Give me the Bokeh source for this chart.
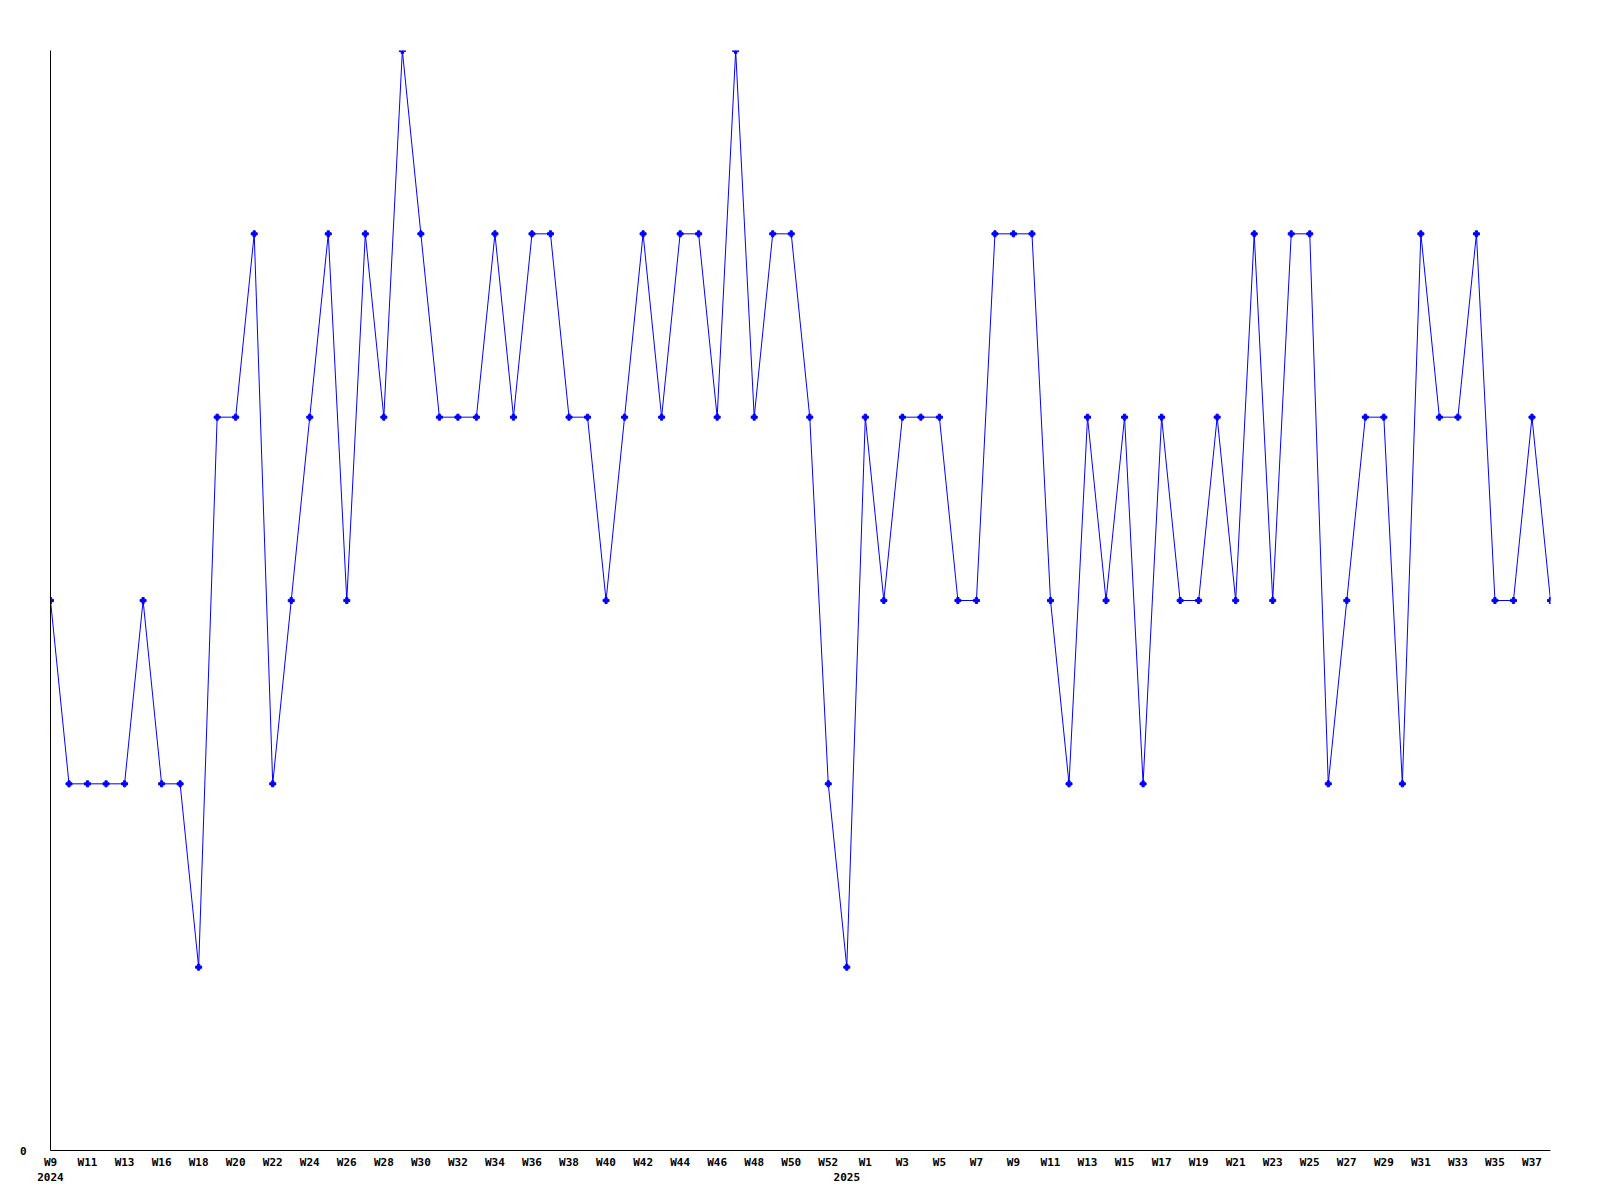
from bokeh.plotting import figure
from bokeh.models import Range1d, FixedTicker, LinearAxis
from bokeh.embed import file_html
from bokeh.resources import INLINE

# Weekly values, 2024 W9 .. 2025 W38 (82 weeks)
values = [
    3, 2, 2, 2, 2, 3, 2, 2, 1, 4,
    4, 5, 2, 3, 4, 5, 3, 5, 4, 6,
    5, 4, 4, 4, 5, 4, 5, 5, 4, 4,
    3, 4, 5, 4, 5, 5, 4, 6, 4, 5,
    5, 4, 2, 1, 4, 3, 4, 4, 4, 3,
    3, 5, 5, 5, 3, 2, 4, 3, 4, 2,
    4, 3, 3, 4, 3, 5, 3, 5, 5, 2,
    3, 4, 4, 2, 5, 4, 4, 5, 3, 3,
    4, 3,
]
idx = list(range(len(values)))

week_tick_pos = [0, 2, 4, 6, 8, 10, 12, 14, 16, 18, 20, 22, 24, 26, 28, 30, 32, 34, 36, 38, 40, 42,
                 44, 46, 48, 50, 52, 54, 56, 58, 60, 62, 64, 66, 68, 70, 72, 74, 76, 78, 80]
week_tick_labels = ["W9", "W11", "W13", "W16", "W18", "W20", "W22", "W24", "W26", "W28", "W30",
                    "W32", "W34", "W36", "W38", "W40", "W42", "W44", "W46", "W48", "W50", "W52",
                    "W1", "W3", "W5", "W7", "W9", "W11", "W13", "W15", "W17", "W19", "W21", "W23",
                    "W25", "W27", "W29", "W31", "W33", "W35", "W37"]
year_tick_pos = [0, 43]
year_tick_labels = ["2024", "2025"]

FONT = "DejaVu Sans Mono"

p = figure(width=1592, height=1192, output_backend="svg", toolbar_location=None,
           x_range=Range1d(0, len(values) - 1), y_range=Range1d(0, 6),
           min_border_left=50, min_border_right=42, min_border_top=50, min_border_bottom=42,
           x_axis_location=None, y_axis_location=None)
p.outline_line_color = None
p.xgrid.visible = False
p.ygrid.visible = False
p.background_fill_color = "white"
p.border_fill_color = "white"

def style_axis(ax):
    ax.major_tick_line_color = None
    ax.minor_tick_line_color = None
    ax.major_tick_out = 0
    ax.major_tick_in = 0
    ax.major_label_text_font = FONT
    ax.major_label_text_font_style = "bold"
    ax.major_label_text_font_size = "11px"
    ax.major_label_text_color = "black"
    ax.axis_line_color = "black"
    ax.axis_line_width = 1

xa = LinearAxis(ticker=FixedTicker(ticks=week_tick_pos, minor_ticks=[]),
                major_label_overrides={k: v for k, v in zip(week_tick_pos, week_tick_labels)})
style_axis(xa)
xa.major_label_standoff = 5
p.add_layout(xa, "below")

ya = LinearAxis(ticker=FixedTicker(ticks=[0], minor_ticks=[]),
                major_label_overrides={0: "0"})
style_axis(ya)
ya.major_label_standoff = 24
p.add_layout(ya, "left")

yr = LinearAxis(ticker=FixedTicker(ticks=year_tick_pos, minor_ticks=[]),
                major_label_overrides={k: v for k, v in zip(year_tick_pos, year_tick_labels)})
style_axis(yr)
yr.axis_line_color = None
yr.major_label_standoff = 1
p.add_layout(yr, "below")

p.line(x=idx, y=values, line_color="#0000ff", line_width=1)
p.scatter(x=idx, y=values, marker="plus", size=6, color="#0000ff")

open("out.html", "w").write(file_html(p, INLINE))
